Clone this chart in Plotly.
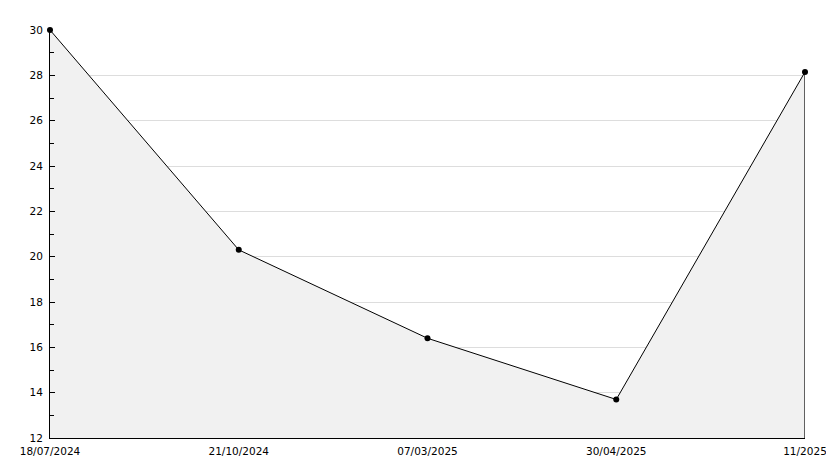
import plotly.graph_objects as go

dates = ["18/07/2024", "21/10/2024", "07/03/2025", "30/04/2025", "11/2025"]
values = [30.0, 20.3, 16.4, 13.7, 28.15]
y_min, y_max = 12, 30

fig = go.Figure()
fig.add_trace(go.Scatter(
    x=dates, y=values, mode="lines+markers",
    line=dict(color="black", width=1),
    marker=dict(color="black", size=6, symbol="circle"),
    fill="tozeroy", fillcolor="#f1f1f1", cliponaxis=False,
    hoverinfo="skip", showlegend=False,
))
# right closing edge of the filled area
fig.add_trace(go.Scatter(
    x=[dates[-1], dates[-1]], y=[y_min, values[-1]], mode="lines",
    line=dict(color="black", width=1.2), hoverinfo="skip", showlegend=False,
))

# page body has an 8px margin, so the figure is sized/offset accordingly
fig.update_layout(
    width=826, height=460,
    margin=dict(l=42, r=29, t=22, b=30, autoexpand=False),
    paper_bgcolor="white", plot_bgcolor="white",
    font=dict(family="DejaVu Sans", size=10.5, color="black"),
)
fig.update_xaxes(
    type="category", range=[0, len(dates) - 1], automargin=False,
    showgrid=False, showline=True, linecolor="black", linewidth=1,
    ticks="", tickangle=0, ticklabelstandoff=3,
)
fig.update_yaxes(
    range=[y_min, y_max], dtick=2, tick0=12, automargin=False,
    showgrid=True, gridcolor="#dddddd", gridwidth=1,
    showline=True, linecolor="black", linewidth=1,
    ticks="inside", ticklen=5, tickcolor="black", ticklabelstandoff=4,
    minor=dict(dtick=1, ticks="inside", ticklen=4, tickcolor="black", showgrid=False),
    zeroline=False,
)
fig.write_html("out.html")
